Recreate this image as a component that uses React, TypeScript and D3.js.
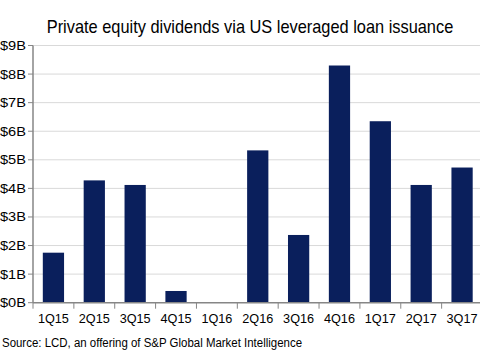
import React from "react";
import * as d3 from "d3";

const categories = ["1Q15", "2Q15", "3Q15", "4Q15", "1Q16", "2Q16", "3Q16", "4Q16", "1Q17", "2Q17", "3Q17"];
const values = [1.75, 4.28, 4.12, 0.41, 0, 5.33, 2.37, 8.3, 6.35, 4.12, 4.73];
const yTicks = [0, 1, 2, 3, 4, 5, 6, 7, 8, 9];
const title = "Private equity dividends via US leveraged loan issuance";
const source = "Source: LCD, an offering of S&P Global Market Intelligence";

export default function App() {
  const W = 480, H = 359;
  const left = 33, right = 482.5, top = 45.5, bottom = 302.7;
  const x = d3.scaleBand<string>().domain(categories).range([left, right]).paddingInner(0.48).paddingOuter(0.24);
  const xb = d3.scaleBand<string>().domain(categories).range([left, right]);
  const y = d3.scaleLinear().domain([0, 9]).range([bottom, top]);
  const font = "'Liberation Sans', Arial, sans-serif";
  return (
    <svg width={W} height={H} style={{ position: "absolute", left: 0, top: 0, background: "#fff" }}>
      <g transform="translate(250,33) scale(0.91,1)">
        <text x={0} y={0} textAnchor="middle" fontFamily={font} fontSize={18} fill="#000">{title}</text>
      </g>
      {yTicks.map((t) => (
        <g key={t}>
          {t > 0 && <line x1={left} x2={W} y1={y(t)} y2={y(t)} stroke="#d9d9d9" strokeWidth={1} />}
          <line x1={left - 5} x2={left} y1={y(t)} y2={y(t)} stroke="#868686" strokeWidth={1} />
          <text x={26} y={y(t) + 4.5} textAnchor="end" fontFamily={font} fontSize={13} textLength={26} lengthAdjust="spacingAndGlyphs" fill="#000">{`$${t}B`}</text>
        </g>
      ))}
      {categories.map((c, i) => (
        <g key={c}>
          <rect x={x(c)} y={y(values[i])} width={x.bandwidth()} height={bottom - y(values[i])} fill="#0a1f5c" />
          <line x1={xb(c)} x2={xb(c)} y1={bottom} y2={bottom + 6} stroke="#868686" strokeWidth={1} />
          <text x={(xb(c) as number) + xb.bandwidth() / 2} y={323} textAnchor="middle" fontFamily={font} fontSize={13} textLength={31} lengthAdjust="spacingAndGlyphs" fill="#000">{c}</text>
        </g>
      ))}
      <line x1={left} x2={W} y1={bottom} y2={bottom} stroke="#868686" strokeWidth={1.5} />
      <line x1={left} x2={left} y1={top} y2={bottom} stroke="#868686" strokeWidth={1.5} />
      <text x={2} y={347} fontFamily={font} fontSize={12.5} textLength={300} lengthAdjust="spacingAndGlyphs" fill="#000">{source}</text>
    </svg>
  );
}
